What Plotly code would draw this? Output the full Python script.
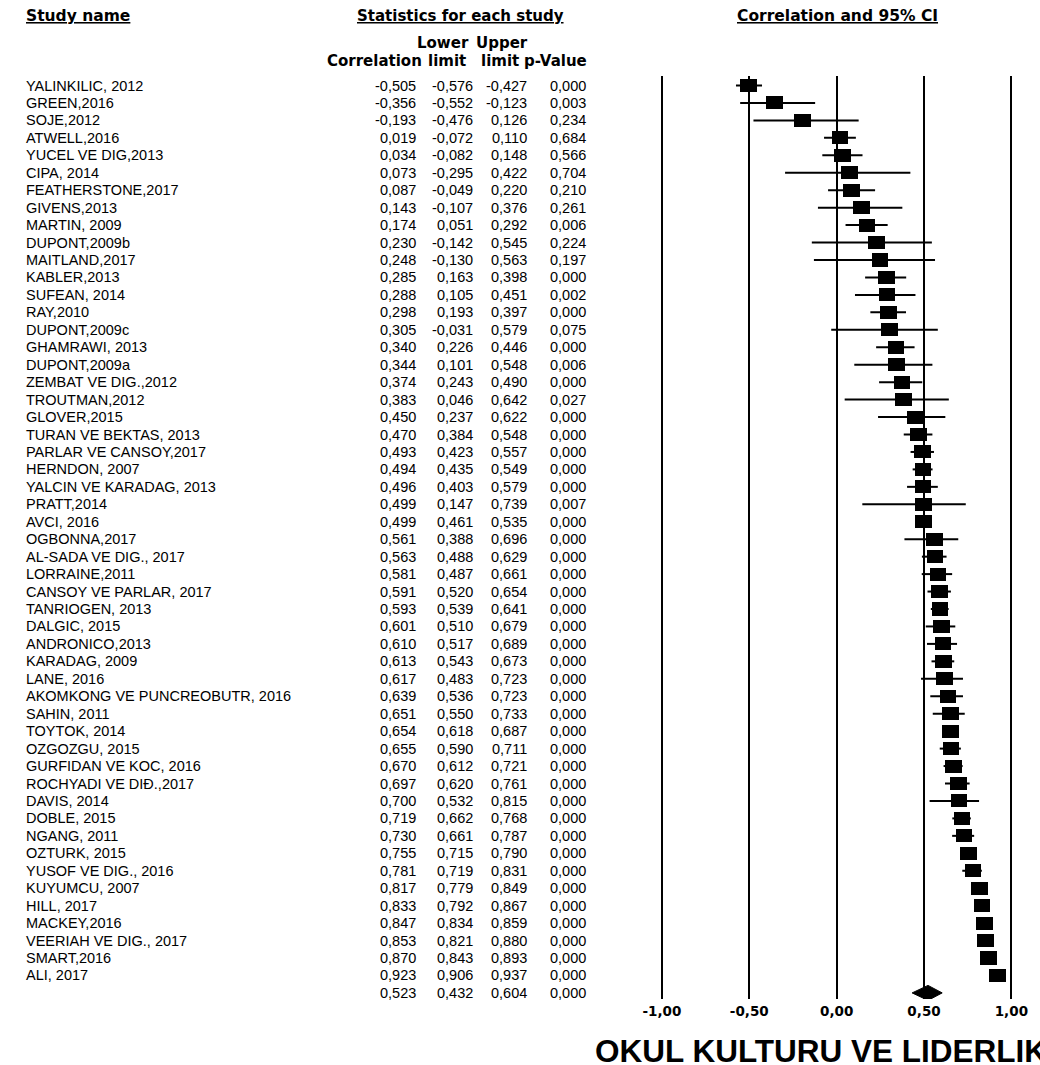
import plotly.graph_objects as go

# ---------------- data ----------------
study_names = [
    "YALINKILIC, 2012", "GREEN,2016", "SOJE,2012", "ATWELL,2016", "YUCEL VE DIG,2013",
    "CIPA, 2014", "FEATHERSTONE,2017", "GIVENS,2013", "MARTIN, 2009", "DUPONT,2009b",
    "MAITLAND,2017", "KABLER,2013", "SUFEAN, 2014", "RAY,2010", "DUPONT,2009c",
    "GHAMRAWI, 2013", "DUPONT,2009a", "ZEMBAT VE DIG.,2012", "TROUTMAN,2012", "GLOVER,2015",
    "TURAN VE BEKTAS, 2013", "PARLAR VE CANSOY,2017", "HERNDON, 2007", "YALCIN VE KARADAG, 2013",
    "PRATT,2014", "AVCI, 2016", "OGBONNA,2017", "AL-SADA VE DIG., 2017", "LORRAINE,2011",
    "CANSOY VE PARLAR, 2017", "TANRIOGEN, 2013", "DALGIC, 2015", "ANDRONICO,2013", "KARADAG, 2009",
    "LANE, 2016", "AKOMKONG VE PUNCREOBUTR, 2016", "SAHIN, 2011", "TOYTOK, 2014", "OZGOZGU, 2015",
    "GURFIDAN VE KOC, 2016", "ROCHYADI VE DIĐ.,2017", "DAVIS, 2014", "DOBLE, 2015", "NGANG, 2011",
    "OZTURK, 2015", "YUSOF VE DIG., 2016", "KUYUMCU, 2007", "HILL, 2017", "MACKEY,2016",
    "VEERIAH VE DIG., 2017", "SMART,2016", "ALI, 2017",
]
correlation = [
    -0.505, -0.356, -0.193, 0.019, 0.034, 0.073, 0.087, 0.143, 0.174, 0.230,
    0.248, 0.285, 0.288, 0.298, 0.305, 0.340, 0.344, 0.374, 0.383, 0.450,
    0.470, 0.493, 0.494, 0.496, 0.499, 0.499, 0.561, 0.563, 0.581, 0.591,
    0.593, 0.601, 0.610, 0.613, 0.617, 0.639, 0.651, 0.654, 0.655, 0.670,
    0.697, 0.700, 0.719, 0.730, 0.755, 0.781, 0.817, 0.833, 0.847, 0.853,
    0.870, 0.923,
]
lower_limit = [
    -0.576, -0.552, -0.476, -0.072, -0.082, -0.295, -0.049, -0.107, 0.051, -0.142,
    -0.130, 0.163, 0.105, 0.193, -0.031, 0.226, 0.101, 0.243, 0.046, 0.237,
    0.384, 0.423, 0.435, 0.403, 0.147, 0.461, 0.388, 0.488, 0.487, 0.520,
    0.539, 0.510, 0.517, 0.543, 0.483, 0.536, 0.550, 0.618, 0.590, 0.612,
    0.620, 0.532, 0.662, 0.661, 0.715, 0.719, 0.779, 0.792, 0.834, 0.821,
    0.843, 0.906,
]
upper_limit = [
    -0.427, -0.123, 0.126, 0.110, 0.148, 0.422, 0.220, 0.376, 0.292, 0.545,
    0.563, 0.398, 0.451, 0.397, 0.579, 0.446, 0.548, 0.490, 0.642, 0.622,
    0.548, 0.557, 0.549, 0.579, 0.739, 0.535, 0.696, 0.629, 0.661, 0.654,
    0.641, 0.679, 0.689, 0.673, 0.723, 0.723, 0.733, 0.687, 0.711, 0.721,
    0.761, 0.815, 0.768, 0.787, 0.790, 0.831, 0.849, 0.867, 0.859, 0.880,
    0.893, 0.937,
]
p_value = [
    0.000, 0.003, 0.234, 0.684, 0.566, 0.704, 0.210, 0.261, 0.006, 0.224,
    0.197, 0.000, 0.002, 0.000, 0.075, 0.000, 0.006, 0.000, 0.027, 0.000,
    0.000, 0.000, 0.000, 0.000, 0.007, 0.000, 0.000, 0.000, 0.000, 0.000,
    0.000, 0.000, 0.000, 0.000, 0.000, 0.000, 0.000, 0.000, 0.000, 0.000,
    0.000, 0.000, 0.000, 0.000, 0.000, 0.000, 0.000, 0.000, 0.000, 0.000,
    0.000, 0.000,
]
summary_correlation = 0.523
summary_lower = 0.432
summary_upper = 0.604
summary_p = 0.000

tick_values = [-1.0, -0.5, 0.0, 0.5, 1.0]
tick_labels = ["-1,00", "-0,50", "0,00", "0,50", "1,00"]

axis_title = "OKUL KULTURU VE LIDERLIK"

# ---------------- layout helpers ----------------
W, H = 1040, 1065
FONT = "Liberation Sans, Arial, sans-serif"
BFONT = "DejaVu Sans, Verdana, sans-serif"
n = len(study_names)
rows = list(range(1, n + 1))
summary_row = n + 1

ROW0_PX = 85.5      # pixel y of row 1
ROW_STEP = 17.45    # pixels per row
PLOT_TOP_PX, PLOT_BOT_PX = 76.0, 999.0
y_top = 1 + (PLOT_TOP_PX - ROW0_PX) / ROW_STEP
y_bot = 1 + (PLOT_BOT_PX - ROW0_PX) / ROW_STEP

X_LEFT_PX, X_RIGHT_PX = 654.1, 1027.9   # x range [-1.05, 1.05]


def fmt(v):
    return f"{v:.3f}".replace(".", ",")


def py(px):
    return 1 - px / H


def pxx(px):
    return px / W


fig = go.Figure()

# CI lines (error bars) for each study
fig.add_trace(go.Scatter(
    x=correlation, y=rows, mode="markers",
    marker=dict(size=1, color="rgba(0,0,0,0)"),
    error_x=dict(type="data", symmetric=False,
                 array=[u - r for u, r in zip(upper_limit, correlation)],
                 arrayminus=[r - l for r, l in zip(correlation, lower_limit)],
                 color="black", thickness=2, width=0),
    hoverinfo="skip", showlegend=False,
))

# point-estimate boxes
BOX_W = 0.095
fig.add_trace(go.Bar(
    orientation="h", y=rows, x=[BOX_W] * n,
    base=[r - BOX_W / 2 for r in correlation],
    width=0.75, marker=dict(color="black", line=dict(width=0)),
    hoverinfo="skip", showlegend=False,
))

# summary diamond
DH = 0.43
fig.add_trace(go.Scatter(
    x=[summary_lower, summary_correlation, summary_upper, summary_correlation, summary_lower],
    y=[summary_row, summary_row - DH, summary_row, summary_row + DH, summary_row],
    mode="lines", fill="toself", fillcolor="black",
    line=dict(color="black", width=1), hoverinfo="skip", showlegend=False,
))

annotations = []
TXT = dict(family=FONT, size=14.5, color="black")

# table rows
COL_R = [415, 473, 528, 588]
for k, name in zip(rows, study_names):
    annotations.append(dict(x=pxx(13), y=k, xref="paper", yref="y", text=name,
                            xanchor="left", yanchor="middle", showarrow=False, font=TXT))
vals = list(zip(correlation, lower_limit, upper_limit, p_value))
vals.append((summary_correlation, summary_lower, summary_upper, summary_p))
for k, row_vals in zip(rows + [summary_row], vals):
    for xr, v in zip(COL_R, row_vals):
        annotations.append(dict(x=pxx(xr), y=k, xref="paper", yref="y", text=fmt(v),
                                xanchor="right", yanchor="middle", showarrow=False, font=TXT))

# headers
HB = dict(family=BFONT, color="black", weight="bold")
annotations += [
    dict(x=pxx(13), y=py(16), text="<u>Study name</u>", xanchor="left",
         font=dict(HB, size=15.5)),
    dict(x=pxx(457.5), y=py(16), text="<u>Statistics for each study</u>", xanchor="center",
         font=dict(HB, size=15)),
    dict(x=pxx(841.5), y=py(16), text="<u>Correlation and 95% CI</u>", xanchor="center",
         font=dict(HB, size=15.5)),
    dict(x=pxx(469), y=py(43), text="Lower", xanchor="right", font=dict(HB, size=15)),
    dict(x=pxx(472), y=py(43), text="Upper", xanchor="left", font=dict(HB, size=15)),
    dict(x=pxx(421), y=py(61), text="Correlation", xanchor="right", font=dict(HB, size=15)),
    dict(x=pxx(444), y=py(61), text="limit", xanchor="center", font=dict(HB, size=15)),
    dict(x=pxx(498), y=py(61), text="limit", xanchor="center", font=dict(HB, size=15)),
    dict(x=pxx(589), y=py(61), text="p-Value", xanchor="right", font=dict(HB, size=15)),
    dict(x=pxx(593), y=py(1051), text=axis_title, xanchor="left",
         font=dict(family=FONT, color="black", weight="bold", size=31.5)),
]
for a in annotations[-10:]:
    a.update(xref="paper", yref="paper", yanchor="middle", showarrow=False)

fig.update_layout(
    width=W, height=H,
    margin=dict(l=0, r=0, t=0, b=0),
    paper_bgcolor="white", plot_bgcolor="white",
    showlegend=False,
    xaxis=dict(domain=[pxx(X_LEFT_PX), pxx(X_RIGHT_PX)], range=[-1.05, 1.05],
               tickvals=tick_values, ticktext=tick_labels,
               showgrid=True, gridcolor="black", gridwidth=2,
               zeroline=False, showline=False, ticks="",
               ticklabelstandoff=2,
               tickfont=dict(family=BFONT, size=13.5, color="black", weight="bold"),
               fixedrange=True),
    yaxis=dict(domain=[py(PLOT_BOT_PX), py(PLOT_TOP_PX)], range=[y_bot, y_top],
               showgrid=False, zeroline=False, showticklabels=False, showline=False,
               ticks="", fixedrange=True),
    annotations=annotations,
    bargap=0,
)

fig.write_html("out.html", config={"displayModeBar": False},
               post_script="document.body.style.margin='0px';")
